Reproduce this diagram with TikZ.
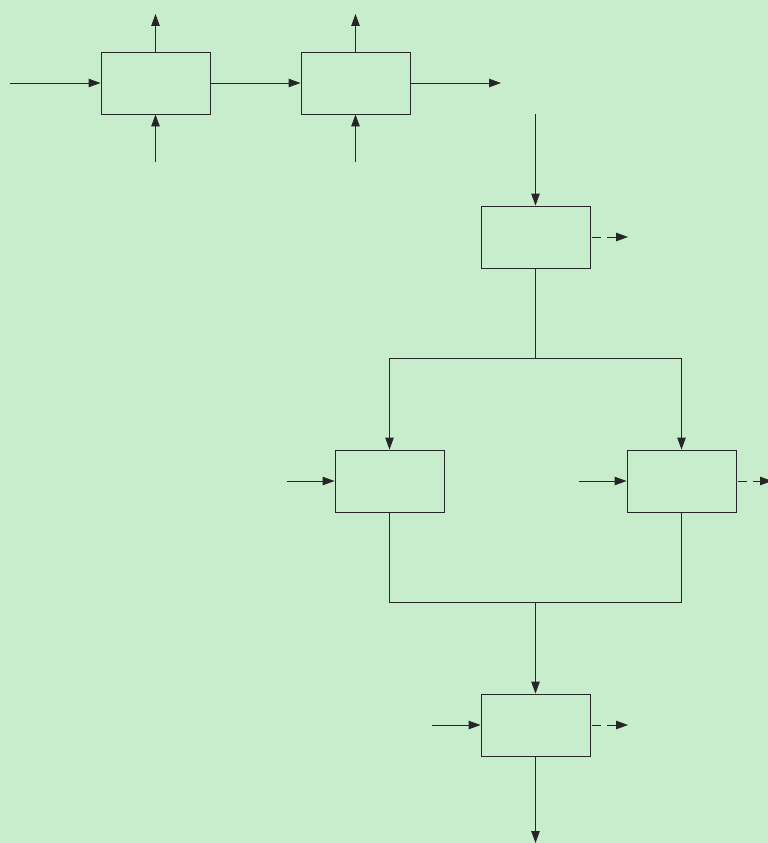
\documentclass[tikz,border=0pt]{standalone}
\usetikzlibrary{arrows.meta}
\definecolor{bg}{RGB}{200,237,204}
\begin{document}
\begin{tikzpicture}[x=1pt,y=-1pt,
  blk/.style={draw=black!85, line width=0.9pt, minimum width=109pt, minimum height=62pt, inner sep=0pt},
  con/.style={line width=0.9pt, draw=black!85},
  arr/.style={con, -{Triangle[length=12pt,width=8.5pt]}},
  darr/.style={arr, dash pattern=on 9pt off 6pt, shorten <=2pt}]
\fill[bg] (0,0) rectangle (768,843);
\useasboundingbox (0,0) rectangle (768,843);
\node[blk] (A) at (155.5,83) {};
\node[blk] (B) at (355.5,83) {};
\node[blk] (C) at (535.5,237) {};
\node[blk] (D) at (389.5,481) {};
\node[blk] (E) at (681.5,481) {};
\node[blk] (F) at (535.5,725) {};
\coordinate (ain) at (10,83);
\coordinate (bout) at (501,83);
\coordinate (atop) at (155.5,14);
\coordinate (abot) at (155.5,162);
\coordinate (btop) at (355.5,14);
\coordinate (bbot) at (355.5,162);
\coordinate (cin) at (535.5,114);
\coordinate (cout) at (628,237);
\coordinate (split) at (535.5,358);
\coordinate (dsplit) at (389.5,358);
\coordinate (esplit) at (681.5,358);
\coordinate (din) at (287,481);
\coordinate (ein) at (579,481);
\coordinate (eout) at (772,481);
\coordinate (dmerge) at (389.5,602);
\coordinate (emerge) at (681.5,602);
\coordinate (merge) at (535.5,602);
\coordinate (fin) at (432,725);
\coordinate (fout) at (628,725);
\coordinate (fbot) at (535.5,843);
\draw[arr] (ain) -- (A.west);
\draw[arr] (A.east) -- (B.west);
\draw[arr] (B.east) -- (bout);
\draw[arr] (A.north) -- (atop);
\draw[arr] (abot) -- (A.south);
\draw[arr] (B.north) -- (btop);
\draw[arr] (bbot) -- (B.south);
\draw[arr] (cin) -- (C.north);
\draw[darr] (C.east) -- (cout);
\draw[con] (C.south) -- (split);
\draw[arr] (split) -- (dsplit) -- (D.north);
\draw[arr] (split) -- (esplit) -- (E.north);
\draw[arr] (din) -- (D.west);
\draw[arr] (ein) -- (E.west);
\draw[darr] (E.east) -- (eout);
\draw[con] (D.south) -- (dmerge) -- (emerge) -- (E.south);
\draw[arr] (merge) -- (F.north);
\draw[arr] (fin) -- (F.west);
\draw[darr] (F.east) -- (fout);
\draw[arr] (F.south) -- (fbot);
\end{tikzpicture}
\end{document}
